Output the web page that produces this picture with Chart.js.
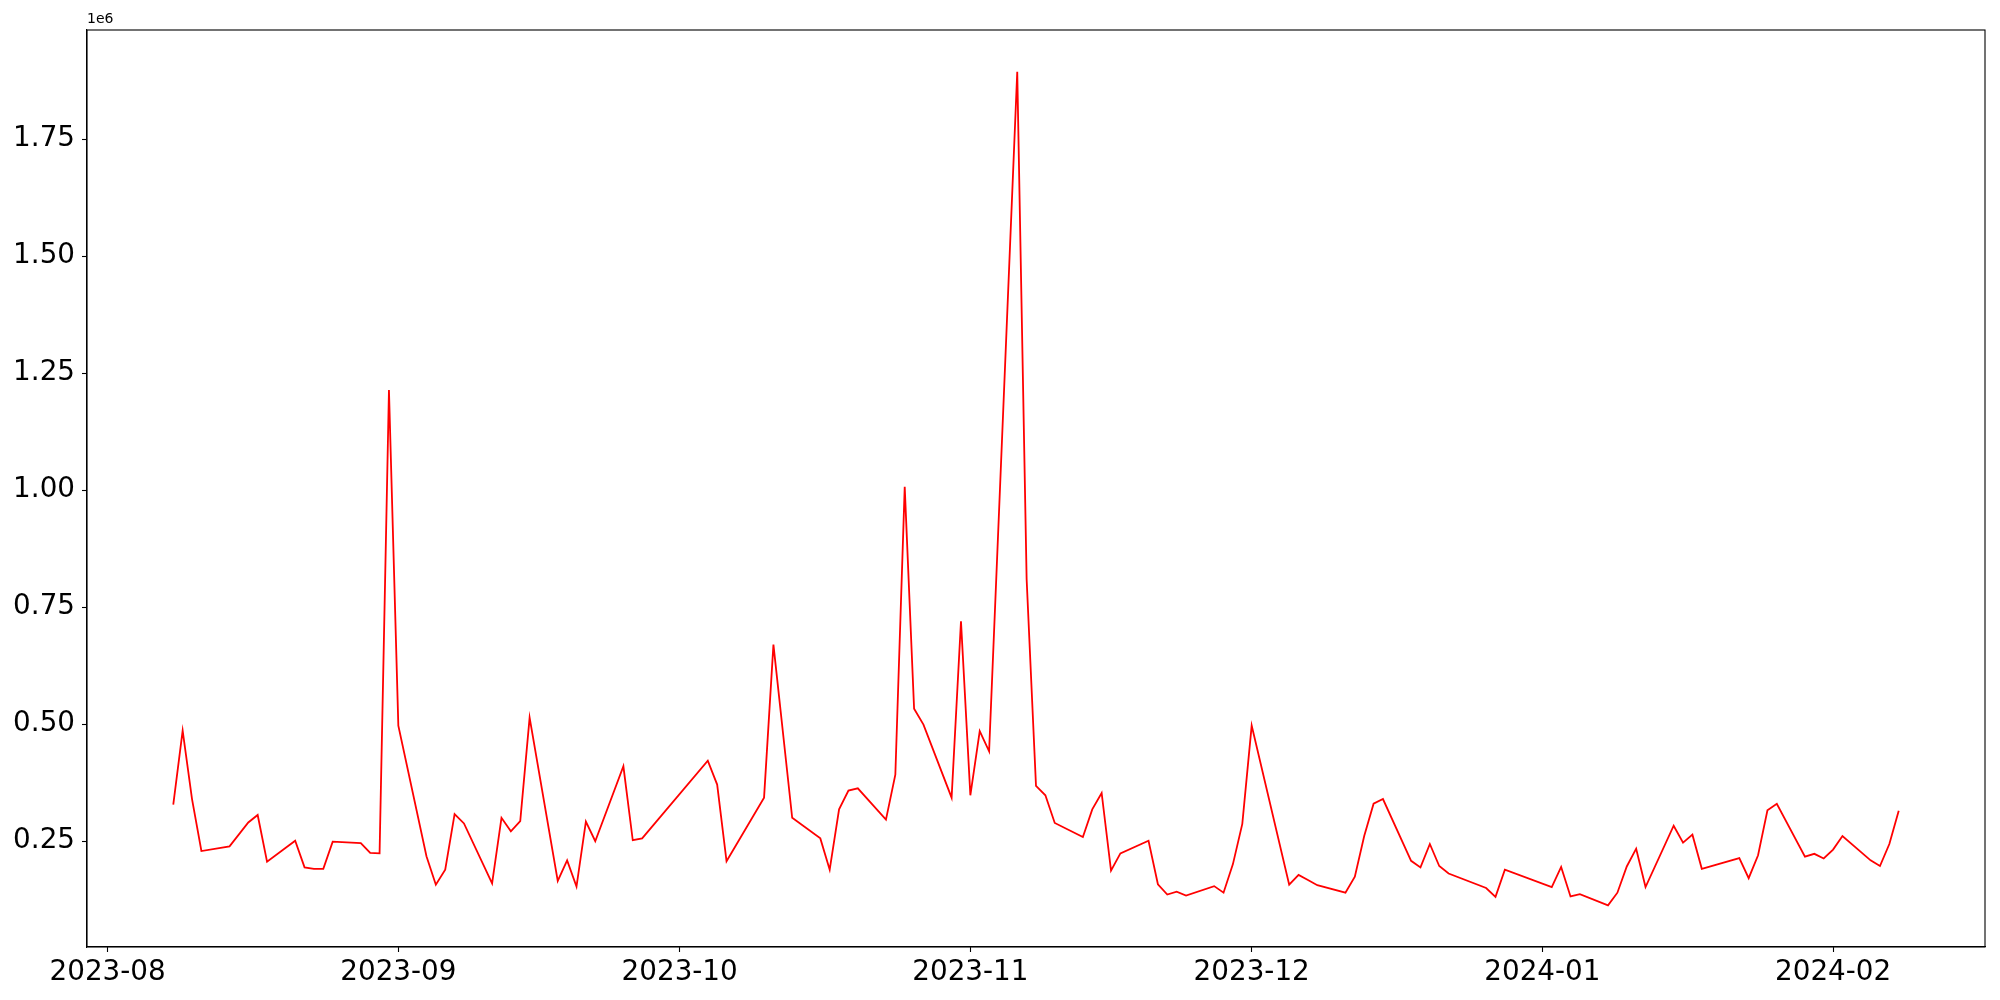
<!DOCTYPE html>
<html>
<head>
<meta charset="utf-8">
<script src="https://cdn.jsdelivr.net/npm/chart.js@4/dist/chart.umd.min.js"></script>
<style>
  html, body { margin: 0; padding: 0; background: #fff; }
  #wrap { position: relative; width: 2000px; height: 1000px; }
</style>
</head>
<body>
<div id="wrap"><canvas id="chart"></canvas></div>
<script>
  // ---- data ----
  var dates = [
    '2023-08-08', '2023-08-09', '2023-08-10', '2023-08-11', '2023-08-14', '2023-08-16', '2023-08-17', '2023-08-18',
    '2023-08-21', '2023-08-22', '2023-08-23', '2023-08-24', '2023-08-25', '2023-08-28', '2023-08-29', '2023-08-30',
    '2023-08-31', '2023-09-01', '2023-09-04', '2023-09-05', '2023-09-06', '2023-09-07', '2023-09-08', '2023-09-11',
    '2023-09-12', '2023-09-13', '2023-09-14', '2023-09-15', '2023-09-18', '2023-09-19', '2023-09-20', '2023-09-21',
    '2023-09-22', '2023-09-25', '2023-09-26', '2023-09-27', '2023-10-04', '2023-10-05', '2023-10-06', '2023-10-10',
    '2023-10-11', '2023-10-13', '2023-10-16', '2023-10-17', '2023-10-18', '2023-10-19', '2023-10-20', '2023-10-23',
    '2023-10-24', '2023-10-25', '2023-10-26', '2023-10-27', '2023-10-30', '2023-10-31', '2023-11-01', '2023-11-02',
    '2023-11-03', '2023-11-06', '2023-11-07', '2023-11-08', '2023-11-09', '2023-11-10', '2023-11-13', '2023-11-14',
    '2023-11-15', '2023-11-16', '2023-11-17', '2023-11-20', '2023-11-21', '2023-11-22', '2023-11-23', '2023-11-24',
    '2023-11-27', '2023-11-28', '2023-11-29', '2023-11-30', '2023-12-01', '2023-12-05', '2023-12-06', '2023-12-07',
    '2023-12-08', '2023-12-11', '2023-12-12', '2023-12-13', '2023-12-14', '2023-12-15', '2023-12-18', '2023-12-19',
    '2023-12-20', '2023-12-21', '2023-12-22', '2023-12-26', '2023-12-27', '2023-12-28', '2024-01-02', '2024-01-03',
    '2024-01-04', '2024-01-05', '2024-01-08', '2024-01-09', '2024-01-10', '2024-01-11', '2024-01-12', '2024-01-15',
    '2024-01-16', '2024-01-17', '2024-01-18', '2024-01-22', '2024-01-23', '2024-01-24', '2024-01-25', '2024-01-26',
    '2024-01-29', '2024-01-30', '2024-01-31', '2024-02-01', '2024-02-02', '2024-02-05', '2024-02-06', '2024-02-07',
    '2024-02-08'
  ];

  var values = [
    328000, 486000, 340000, 229000, 239000, 290000, 306000, 206000,
    251000, 194000, 191000, 191000, 249000, 246000, 225000, 224000,
    1214000, 497000, 218000, 157000, 189000, 308000, 288000, 160000,
    300000, 271000, 293000, 514000, 165000, 209000, 153000, 292000,
    250000, 410000, 252000, 256000, 422000, 371000, 207000, 343000,
    670000, 300000, 256000, 189000, 318000, 358000, 363000, 296000,
    392000, 1007000, 533000, 499000, 343000, 720000, 348000, 485000,
    442000, 1894000, 810000, 368000, 348000, 289000, 259000, 318000,
    353000, 187000, 224000, 251000, 158000, 136000, 142000, 134000,
    154000, 140000, 201000, 287000, 497000, 157000, 178000, 167000,
    156000, 140000, 174000, 261000, 330000, 340000, 208000, 194000,
    244000, 197000, 181000, 150000, 131000, 189000, 152000, 195000,
    132000, 137000, 113000, 140000, 196000, 234000, 152000, 283000,
    247000, 264000, 191000, 214000, 171000, 220000, 316000, 330000,
    217000, 223000, 213000, 232000, 261000, 209000, 197000, 244000,
    315000
  ];

  var monthTicks = ['2023-08-01', '2023-09-01', '2023-10-01', '2023-11-01', '2023-12-01', '2024-01-01', '2024-02-01'];
  var yTicks = [250000, 500000, 750000, 1000000, 1250000, 1500000, 1750000];

  var FONT = 'DejaVu Sans';

  function ts(s) { return Date.parse(s + 'T00:00:00Z'); }

  var points = dates.map(function(d, i) { return { x: ts(d), y: values[i] }; });

  // matplotlib-style 5% margins
  var xFirst = ts(dates[0]), xLast = ts(dates[dates.length - 1]);
  var xPad = (xLast - xFirst) * 0.05;
  var yLo = Math.min.apply(null, values), yHi = Math.max.apply(null, values);
  var yPad = (yHi - yLo) * 0.05;

  var framePlugin = {
    id: 'frame',
    afterDraw: function(chart) {
      var a = chart.chartArea, ctx = chart.ctx;
      ctx.save();
      ctx.strokeStyle = '#000';
      ctx.lineWidth = 1.1;
      ctx.strokeRect(a.left, a.top, a.right - a.left, a.bottom - a.top);
      ctx.fillStyle = '#000';
      ctx.font = '14px "' + FONT + '"';
      ctx.textAlign = 'left';
      ctx.textBaseline = 'bottom';
      ctx.fillText('1e6', a.left, a.top - 4);
      ctx.restore();
    }
  };

  new Chart(document.getElementById('chart').getContext('2d'), {
    type: 'line',
    data: {
      datasets: [{
        data: points,
        borderColor: '#ff0000',
        borderWidth: 1.8,
        pointRadius: 0,
        tension: 0,
        fill: false
      }]
    },
    options: {
      responsive: true,
      maintainAspectRatio: false,
      animation: false,
      events: [],
      layout: { padding: { top: 30, right: 15, left: 0, bottom: 0 } },
      plugins: { legend: { display: false }, tooltip: { enabled: false } },
      scales: {
        x: {
          type: 'linear',
          min: xFirst - xPad,
          max: xLast + xPad,
          afterBuildTicks: function(scale) {
            scale.ticks = monthTicks.map(function(m) { return { value: ts(m) }; });
          },
          afterFit: function(scale) { scale.height = 53; },
          grid: { drawOnChartArea: false, drawTicks: true, tickLength: 5, color: '#000', tickWidth: 1.1 },
          border: { display: true, color: '#000', width: 1.1 },
          ticks: {
            autoSkip: false,
            maxRotation: 0,
            padding: 4,
            color: '#000',
            font: { family: FONT, size: 27.8 },
            callback: function(v) {
              var d = new Date(v);
              var m = d.getUTCMonth() + 1;
              return d.getUTCFullYear() + '-' + (m < 10 ? '0' + m : m);
            }
          }
        },
        y: {
          min: yLo - yPad,
          max: yHi + yPad,
          afterBuildTicks: function(scale) {
            scale.ticks = yTicks.map(function(v) { return { value: v }; });
          },
          afterFit: function(scale) { scale.width = 87; },
          grid: { drawOnChartArea: false, drawTicks: true, tickLength: 5, color: '#000', tickWidth: 1.1 },
          border: { display: true, color: '#000', width: 1.1 },
          ticks: {
            padding: 7,
            color: '#000',
            font: { family: FONT, size: 27.8 },
            callback: function(v) { return (v / 1e6).toFixed(2); }
          }
        }
      }
    },
    plugins: [framePlugin]
  });
</script>
</body>
</html>
